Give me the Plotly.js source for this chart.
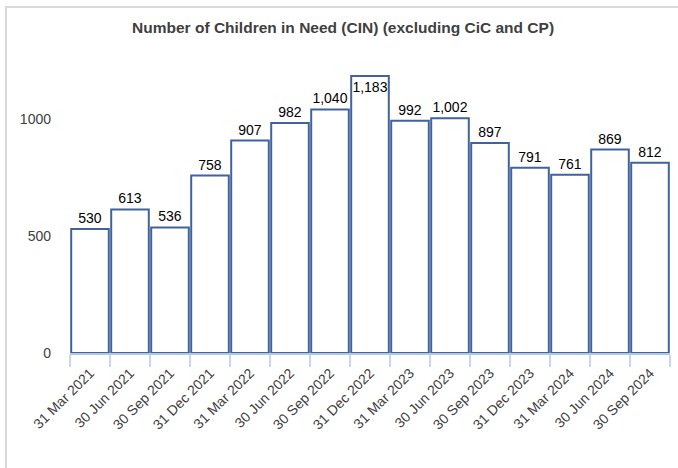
<!DOCTYPE html>
<html>
<head>
<meta charset="utf-8">
<script src="https://cdn.plot.ly/plotly-3.0.1.min.js"></script>
<style>
  html, body { margin: 0; padding: 0; width: 678px; height: 468px; overflow: hidden; background: #fff; }
  #frame { position: absolute; left: 5px; top: 6px; width: 700px; height: 500px; border-top: 2px solid #d9d9d9; border-left: 2px solid #d9d9d9; }
  #chart { position: absolute; left: 0; top: 0; width: 678px; height: 468px; }
</style>
</head>
<body>
<div id="frame"></div>
<div id="chart"></div>
<script>
const categories = ["31 Mar 2021","30 Jun 2021","30 Sep 2021","31 Dec 2021","31 Mar 2022","30 Jun 2022","30 Sep 2022","31 Dec 2022","31 Mar 2023","30 Jun 2023","30 Sep 2023","31 Dec 2023","31 Mar 2024","30 Jun 2024","30 Sep 2024"];
const values = [530, 613, 536, 758, 907, 982, 1040, 1183, 992, 1002, 897, 791, 761, 869, 812];
const yTicks = [0, 500, 1000];

const positions = values.map(v => v > 1150 ? 'inside' : 'outside');
const FONT = 'Liberation Sans, Arial, sans-serif';

const trace = {
  type: 'bar',
  x: categories,
  y: values,
  marker: { color: '#ffffff', line: { color: '#41639b', width: 2 } },
  texttemplate: '%{y:,}',
  textposition: positions,
  insidetextanchor: 'end',
  textangle: 0,
  constraintext: 'none',
  cliponaxis: false,
  textfont: { family: FONT, size: 14, color: '#000000' },
  insidetextfont: { family: FONT, size: 14, color: '#000000' },
  outsidetextfont: { family: FONT, size: 14, color: '#000000' },
  hoverinfo: 'x+y'
};

const layout = {
  width: 678,
  height: 468,
  margin: { l: 70, r: 8, t: 72, b: 115 },
  paper_bgcolor: 'rgba(0,0,0,0)',
  plot_bgcolor: 'rgba(0,0,0,0)',
  showlegend: false,
  bargap: 0.06,
  title: {
    text: '<b>Number of Children in Need (CIN) (excluding CiC and CP)</b>',
    font: { family: FONT, size: 15.5, color: '#404040' },
    x: 0.506, xref: 'container', xanchor: 'center',
    y: 0.942, yref: 'container', yanchor: 'middle'
  },
  xaxis: {
    type: 'category',
    tickangle: -45,
    tickfont: { family: FONT, size: 14, color: '#404040' },
    showline: true, linecolor: '#b4c6e4', linewidth: 1.5,
    ticks: 'outside', tickson: 'boundaries', ticklen: 12, tickcolor: '#c9d7ee', tickwidth: 1.5,
    ticklabelstandoff: 5,
    showgrid: false, zeroline: false
  },
  yaxis: {
    range: [0, 1200],
    tickvals: yTicks,
    tickformat: 'd',
    showgrid: false, zeroline: false, showline: false,
    ticks: '', ticklabelstandoff: 18,
    tickfont: { family: FONT, size: 14, color: '#404040' }
  }
};

Plotly.newPlot('chart', [trace], layout, { displayModeBar: false, staticPlot: true });
</script>
</body>
</html>
